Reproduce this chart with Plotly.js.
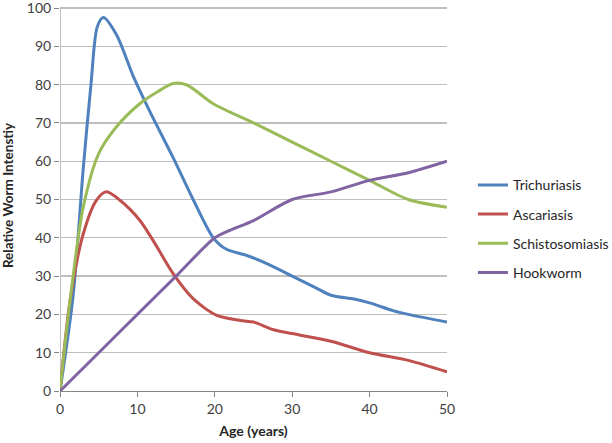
<!DOCTYPE html>
<html>
<head>
<meta charset="utf-8">
<script src="https://cdn.plot.ly/plotly-3.0.1.min.js"></script>
<style>html,body{margin:0;padding:0;background:#fff;}#chart{width:612px;height:443px;}</style>
</head>
<body>
<div id="chart"></div>
<script>
var seriesNames = ["Trichuriasis", "Ascariasis", "Schistosomiasis", "Hookworm"];

var triAge = [0, 1.7, 3, 4, 4.8, 5.6, 7.3, 9.5, 11.6, 14.6, 17.2, 19.8, 21.5, 24, 27, 30, 33, 35, 38, 40, 43, 45, 50];
var triVal = [0, 25, 58, 80, 95, 97.5, 93, 82, 73, 61, 50, 40, 37, 35.5, 33, 30, 27, 25, 24, 23, 21, 20, 18];

var ascAge = [0, 1.3, 3, 4.7, 6, 7.75, 10.3, 12, 14.6, 17.2, 20.2, 23.3, 25, 27.6, 30, 35, 40, 45, 50];
var ascVal = [0, 23.6, 41, 49.8, 52, 49.8, 44.6, 39.4, 30.7, 24.1, 19.8, 18.4, 18, 16, 15, 13, 10, 8, 5];

var schAge = [0, 1.3, 3, 5, 7.3, 10.3, 12.5, 14.6, 16.4, 19.8, 25, 30, 35, 40, 45, 50];
var schVal = [0, 23.6, 48, 62, 69, 75, 78, 80.3, 79.9, 75, 70, 65, 60, 55, 50, 48];

var hookAge = [0, 5, 10, 15, 20, 22, 25, 30, 35, 40, 45, 50];
var hookVal = [0, 10, 20, 30, 40, 42, 44.5, 50, 52, 55, 57, 60];

var xTicks = [0, 10, 20, 30, 40, 50];
var yTicks = [0, 10, 20, 30, 40, 50, 60, 70, 80, 90, 100];

var colors = ["#4F81BD", "#C0504D", "#9BBB59", "#8064A2"];
var xs = [triAge, ascAge, schAge, hookAge];
var ys = [triVal, ascVal, schVal, hookVal];

var traces = seriesNames.map(function (n, i) {
  return {
    type: "scatter", mode: "lines", name: n, x: xs[i], y: ys[i],
    legendgroup: "g" + i, cliponaxis: false,
    line: {color: colors[i], width: 3, shape: "spline", smoothing: 0.8}
  };
});

var font = "Lato, 'Open Sans', 'Liberation Sans', sans-serif";
var layout = {
  width: 612, height: 443,
  margin: {l: 60, r: 165, t: 0, b: 52, autoexpand: false},
  paper_bgcolor: "#fff", plot_bgcolor: "#fff",
  font: {family: font, size: 14, color: "#404040"},
  showlegend: true,
  legend: {x: 1.067, xanchor: "left", y: 0.567, yanchor: "top", traceorder: "grouped", tracegroupgap: 8,
           font: {family: font, size: 14, color: "#262626"}, bgcolor: "rgba(0,0,0,0)"},
  xaxis: {
    range: [0, 50], tickvals: xTicks, ticktext: xTicks.map(String), showgrid: false, zeroline: false,
    showline: true, linecolor: "#868686", linewidth: 1,
    ticks: "outside", ticklen: 5, tickcolor: "#868686", ticklabeloverflow: "allow",
    tickfont: {family: font, size: 14, color: "#404040"},
    title: {text: "<b>Age (years)</b>", font: {family: font, size: 14, color: "#262626"}, standoff: 10}
  },
  yaxis: {
    range: [0, 102.1], tickvals: yTicks, ticktext: yTicks.map(String), showgrid: true, gridcolor: "#BEBEBE", gridwidth: 1.3, zeroline: false,
    showline: false,
    ticks: "outside", ticklen: 5, tickcolor: "#868686", ticklabeloverflow: "allow",
    tickfont: {family: font, size: 14, color: "#404040"},
    title: {text: "<b>Relative Worm Intenstiy</b>", font: {family: font, size: 13.5, color: "#262626"}, standoff: 12}
  },
  shapes: [{type: "line", xref: "x", yref: "y", x0: 0, x1: 0, y0: 0, y1: 100, line: {color: "#868686", width: 1}, layer: "below"}]
};

Plotly.newPlot("chart", traces, layout, {displayModeBar: false, staticPlot: true});
</script>
</body>
</html>
